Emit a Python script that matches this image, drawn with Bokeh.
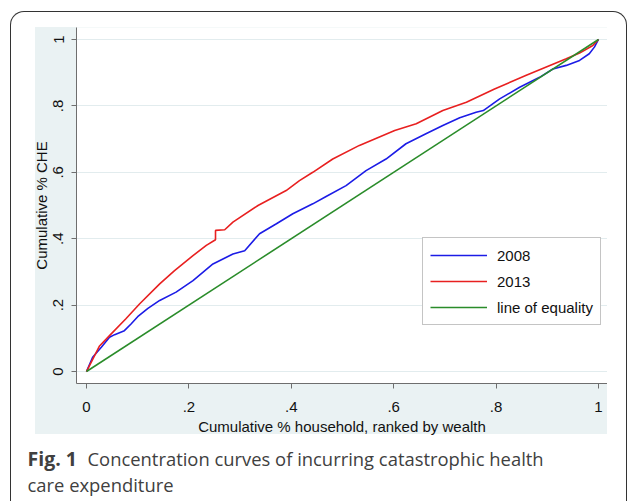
from bokeh.plotting import figure
from bokeh.models import (Range1d, FixedTicker, Legend, LegendItem, Label, Spacer, Column, Row)
from bokeh.embed import file_html
from bokeh.resources import INLINE

# ---- data ----
x_2008 = [0, 0.012, 0.029, 0.045, 0.055, 0.074, 0.087, 0.1, 0.12, 0.143, 0.175, 0.208,
          0.247, 0.286, 0.309, 0.338, 0.371, 0.403, 0.442, 0.468, 0.507, 0.546, 0.585,
          0.624, 0.663, 0.696, 0.729, 0.761, 0.775, 0.807, 0.846, 0.885, 0.911, 0.937,
          0.963, 0.982, 0.992, 1.0]
y_2008 = [0, 0.043, 0.073, 0.103, 0.111, 0.123, 0.143, 0.165, 0.19, 0.214, 0.239, 0.274,
          0.324, 0.354, 0.364, 0.415, 0.445, 0.475, 0.505, 0.527, 0.56, 0.605, 0.64,
          0.686, 0.716, 0.741, 0.764, 0.781, 0.786, 0.821, 0.856, 0.886, 0.911, 0.922,
          0.937, 0.957, 0.977, 1.0]
x_2013 = [0, 0.025, 0.045, 0.077, 0.104, 0.143, 0.172, 0.208, 0.234, 0.252, 0.252, 0.270,
          0.286, 0.335, 0.39, 0.416, 0.442, 0.481, 0.533, 0.602, 0.644, 0.696, 0.742,
          0.797, 0.859, 0.898, 0.937, 0.963, 0.989, 1.0]
y_2013 = [0, 0.076, 0.108, 0.159, 0.204, 0.264, 0.304, 0.349, 0.380, 0.397, 0.425, 0.427,
          0.450, 0.5, 0.545, 0.575, 0.600, 0.640, 0.681, 0.726, 0.746, 0.786, 0.811,
          0.851, 0.892, 0.917, 0.942, 0.959, 0.982, 1.0]
x_equality = [0, 1]
y_equality = [0, 1]

tick_values = [0, 0.2, 0.4, 0.6, 0.8, 1]
tick_labels = ["0", ".2", ".4", ".6", ".8", "1"]
series_names = ["2008", "2013", "line of equality"]
x_title = "Cumulative % household, ranked by wealth"
y_title = "Cumulative % CHE"
caption_bold = "Fig. 1"
caption_line1 = "Concentration curves of incurring catastrophic health"
caption_line2 = "care expenditure"

FONT = "Liberation Sans"
REGION = "#EAF2F3"

# ---- main graph ----
p = figure(frame_width=531, frame_height=356, output_backend="svg", toolbar_location=None,
           x_range=Range1d(-0.0195, 1.0176), y_range=Range1d(-0.0361, 1.0361),
           min_border_left=50, min_border_right=0, min_border_top=0,
           min_border_bottom=60)
p.border_fill_alpha = 0          # graph-region colour comes from the row background
p.background_fill_color = "white"
p.outline_line_color = None

for ax in (p.xaxis[0], p.yaxis[0]):
    ax.ticker = FixedTicker(ticks=tick_values)
    ax.major_label_overrides = dict(zip(tick_values, tick_labels))
    ax.axis_line_color = "#6e6e6e"
    ax.major_tick_line_color = "#6e6e6e"
    ax.major_tick_out = 5
    ax.major_tick_in = 0
    ax.minor_tick_line_color = None
    ax.major_label_text_font = FONT
    ax.major_label_text_font_size = "15px"
    ax.major_label_text_color = "#111111"
    ax.axis_label_text_font = FONT
    ax.axis_label_text_font_size = "15px"
    ax.axis_label_text_font_style = "normal"
    ax.axis_label_text_color = "#111111"

p.xaxis.axis_label = x_title
p.xaxis.major_label_standoff = 13
p.xaxis.axis_label_standoff = 3
p.yaxis.axis_label = y_title
p.yaxis.major_label_orientation = "vertical"
p.yaxis.major_label_standoff = 8
p.yaxis.axis_label_standoff = 1

p.xgrid.visible = False
p.ygrid.ticker = FixedTicker(ticks=tick_values)
p.ygrid.grid_line_color = "#E2ECEE"
p.ygrid.grid_line_width = 1

r08 = p.line(x_2008, y_2008, line_color="#1c1ce6", line_width=1.6)
r13 = p.line(x_2013, y_2013, line_color="#e82020", line_width=1.6)
req = p.line(x_equality, y_equality, line_color="#2a8c2a", line_width=1.6)

legend = Legend(items=[LegendItem(label=series_names[0], renderers=[r08]),
                       LegendItem(label=series_names[1], renderers=[r13]),
                       LegendItem(label=series_names[2], renderers=[req])],
                location=(346, 58), glyph_width=57, glyph_height=20,
                label_height=20, label_standoff=10, spacing=6, padding=7, margin=0,
                label_text_font=FONT, label_text_font_size="15px",
                label_text_color="#111111", border_line_color="#8a8a8a",
                border_line_width=1, background_fill_color="white",
                background_fill_alpha=1.0)
p.add_layout(legend, "center")

graph_row = Row(children=[Spacer(width=15), p],
                styles={"background": "linear-gradient(to right, #ffffff 24px, transparent 24px), "
                                      "linear-gradient(to bottom, %s 407px, #ffffff 407px)" % REGION})

# ---- caption panel ----
CW, CH = 600, 58
cap = figure(width=CW, height=CH, output_backend="svg", toolbar_location=None,
             x_range=Range1d(0, CW), y_range=Range1d(CH, 0),
             x_axis_location=None, y_axis_location=None,
             min_border=0, min_border_left=0, min_border_right=0,
             min_border_top=0, min_border_bottom=0)
cap.grid.visible = False
cap.outline_line_color = None
cap.background_fill_color = "white"
cap.border_fill_color = "white"
cap_kw = dict(text_font="Open Sans", text_baseline="middle", text_color="#404040")
cap.add_layout(Label(x=16, y=15, text=caption_bold, text_font_style="bold",
                     text_font_size="19.5px", **cap_kw))
cap.add_layout(Label(x=76, y=15, text=caption_line1, text_font_size="18.4px", **cap_kw))
cap.add_layout(Label(x=16, y=41, text=caption_line2, text_font_size="18.4px", **cap_kw))

# ---- whole panel with rounded outer frame ----
layout = Column(children=[Spacer(height=15), graph_row, cap],
                margin=(11, 0, 0, 10), width=617, height=490,
                styles={"border": "1.5px solid #333333", "border-bottom": "none",
                        "border-radius": "14px 14px 0 0", "background": "white"})

open("out.html", "w").write(file_html(layout, INLINE))
